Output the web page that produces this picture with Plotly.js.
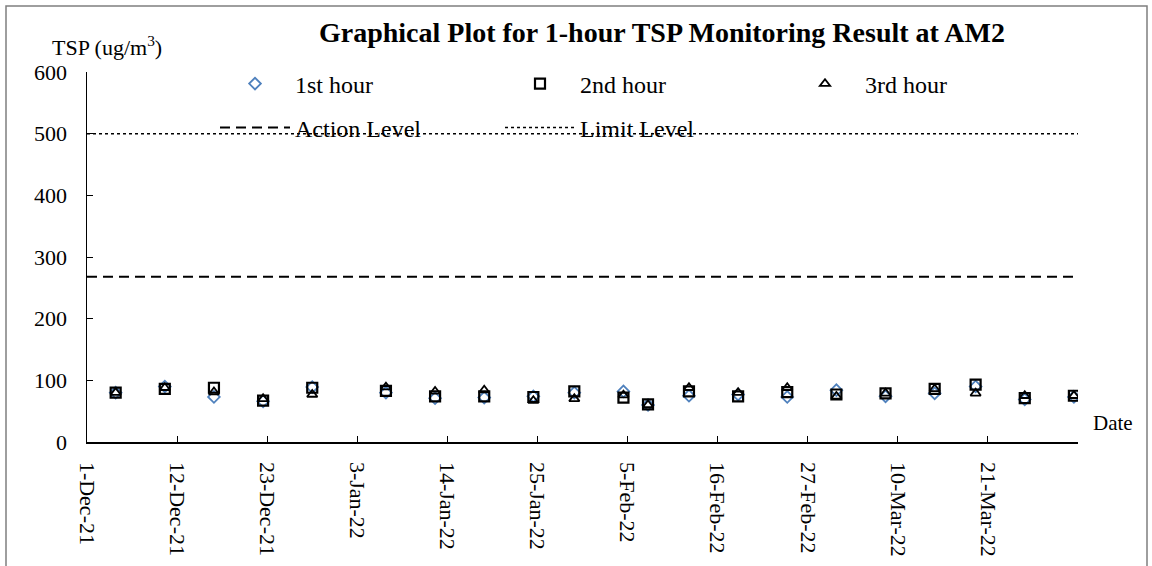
<!DOCTYPE html>
<html>
<head>
<meta charset="utf-8">
<script src="https://cdn.plot.ly/plotly-3.0.1.min.js"></script>
<style>html,body{margin:0;padding:0;background:#fff;}#chart{width:1152px;height:566px;}</style>
</head>
<body>
<div id="chart"></div>
<script>
// ---- data ----
const sampleDates = ['2021-12-04 12:00','2021-12-10 12:00','2021-12-16 12:00','2021-12-22 12:00','2021-12-28 12:00',
  '2022-01-06 12:00','2022-01-12 12:00','2022-01-18 12:00','2022-01-24 12:00','2022-01-29 12:00',
  '2022-02-04 12:00','2022-02-07 12:00','2022-02-12 12:00','2022-02-18 12:00','2022-02-24 12:00',
  '2022-03-02 12:00','2022-03-08 12:00','2022-03-14 12:00','2022-03-19 12:00','2022-03-25 12:00','2022-03-31 12:00'];
const hour1 = [80, 90, 73, 66, 89, 80, 71, 72, 74, 80, 82, 60, 75, 77, 73, 84, 74, 79, 90, 69, 73];
const hour2 = [80, 86, 88, 67, 88, 83, 74, 74, 73, 82, 72, 61, 82, 74, 81, 77, 79, 86, 93, 71, 75];
const hour3 = [80, 88, 81, 70, 77, 89, 82, 84, 67, 70, 76, 60, 88, 80, 88, 74, 79, 86, 79, 75, 75];
const actionLevel = 268;
const limitLevel = 500;
const axisStart = '2021-12-01';
const axisEnd = '2022-04-01';
const tickDates = ['2021-12-01','2021-12-12','2021-12-23','2022-01-03','2022-01-14','2022-01-25',
  '2022-02-05','2022-02-16','2022-02-27','2022-03-10','2022-03-21','2022-04-01'];
const tickLabels = ['1-Dec-21','12-Dec-21','23-Dec-21','3-Jan-22','14-Jan-22','25-Jan-22',
  '5-Feb-22','16-Feb-22','27-Feb-22','10-Mar-22','21-Mar-22',' '];
const seriesNames = ['1st hour','2nd hour','3rd hour','Action Level','Limit Level'];

const serif = 'Times New Roman';

const traces = [
  {x: sampleDates, y: hour1, name: seriesNames[0], type: 'scatter', mode: 'markers', legend: 'legend',
   marker: {symbol: 'diamond-open', size: 9, color: '#4F81BD', line: {width: 1.8, color: '#4F81BD'}}},
  {x: sampleDates, y: hour2, name: seriesNames[1], type: 'scatter', mode: 'markers', legend: 'legend',
   marker: {symbol: 'square-open', size: 10, color: '#000', line: {width: 2.2, color: '#000'}}},
  {x: sampleDates, y: hour3, name: seriesNames[2], type: 'scatter', mode: 'markers', legend: 'legend',
   marker: {symbol: 'triangle-up-open', size: 9, color: '#000', line: {width: 1.8, color: '#000'}}},
  {x: [axisStart, axisEnd], y: [actionLevel, actionLevel], name: seriesNames[3], type: 'scatter', mode: 'lines',
   legend: 'legend2', line: {color: '#000', width: 2, dash: '10px,6px'}},
  {x: [axisStart, axisEnd], y: [limitLevel, limitLevel], name: seriesNames[4], type: 'scatter', mode: 'lines',
   legend: 'legend2', line: {color: '#000', width: 1.5, dash: 'dot'}}
];

const L = 87, R = 1078, T = 72, B = 442, W = 1152, H = 566;
const px = v => (v - L) / (R - L);
const py = v => (B - v) / (B - T);

const legendCommon = {
  orientation: 'h', entrywidth: 200, entrywidthmode: 'pixels', itemwidth: 70,
  font: {family: serif, size: 24, color: '#000'}, bgcolor: 'rgba(0,0,0,0)',
  xref: 'container', yref: 'container', xanchor: 'left', yanchor: 'middle', borderwidth: 0,
  itemclick: false, itemdoubleclick: false
};

const layout = {
  width: W, height: H,
  margin: {l: L, r: W - R, t: T, b: H - B, pad: 0, autoexpand: false},
  paper_bgcolor: '#fff', plot_bgcolor: '#fff',
  font: {family: serif, size: 22, color: '#000'},
  title: {text: '<b>Graphical Plot for 1-hour TSP Monitoring Result at AM2</b>',
    font: {family: serif, size: 28, color: '#000'},
    xref: 'container', yref: 'container', x: 662 / W, y: 1 - 32 / H, xanchor: 'center', yanchor: 'middle'},
  showlegend: true,
  legend: Object.assign({}, legendCommon, {x: 215 / W, y: 1 - 84 / H}),
  legend2: Object.assign({}, legendCommon, {x: 215 / W, y: 1 - 128 / H}),
  xaxis: {
    type: 'date', range: [axisStart, axisEnd], tickmode: 'array', tickvals: tickDates, ticktext: tickLabels,
    tickangle: 90, ticks: 'inside', ticklen: 6, tickwidth: 1, tickcolor: '#000',
    showline: true, linecolor: '#000', linewidth: 1.5, showgrid: false, zeroline: false,
    tickfont: {family: serif, size: 22, color: '#000'}, ticklabelstandoff: 14, fixedrange: true, automargin: false
  },
  yaxis: {
    range: [0, 600], tickmode: 'linear', tick0: 0, dtick: 100,
    ticks: 'inside', ticklen: 6, tickwidth: 1, tickcolor: '#000',
    showline: true, linecolor: '#000', linewidth: 1.5, showgrid: false, zeroline: false,
    tickfont: {family: serif, size: 22, color: '#000'}, ticklabelstandoff: 14, fixedrange: true, automargin: false
  },
  annotations: [
    {text: 'TSP (ug/m<sup>3</sup>)', xref: 'paper', yref: 'paper', x: px(50), y: py(46),
     xanchor: 'left', yanchor: 'middle', showarrow: false, font: {family: serif, size: 22, color: '#000'}},
    {text: 'Date', xref: 'paper', yref: 'paper', x: px(1091), y: py(423),
     xanchor: 'left', yanchor: 'middle', showarrow: false, font: {family: serif, size: 21, color: '#000'}}
  ],
  shapes: [
    {type: 'rect', xref: 'paper', yref: 'paper', x0: px(6), x1: px(1147), y0: py(700), y1: py(6),
     line: {color: '#7f7f7f', width: 1.5}, fillcolor: 'rgba(0,0,0,0)', layer: 'below'}
  ]
};

Plotly.newPlot('chart', traces, layout, {staticPlot: true, displayModeBar: false});
</script>
</body>
</html>
